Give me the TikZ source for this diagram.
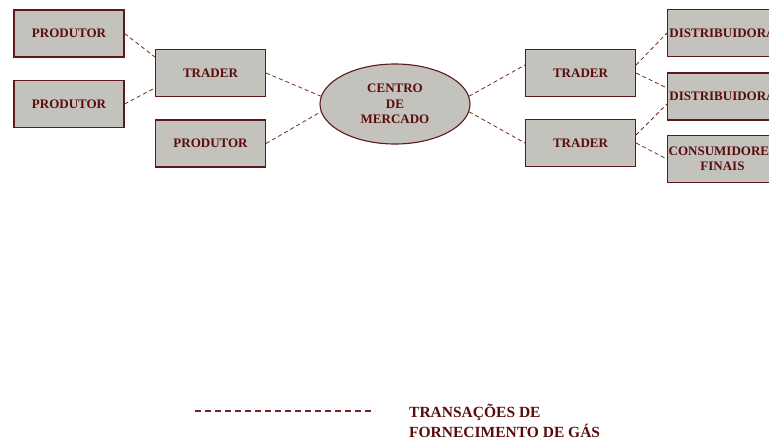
\documentclass[tikz,border=0pt]{standalone}
\usepackage{fontspec}
\setmainfont{Liberation Serif}
\usetikzlibrary{shapes.geometric}
\definecolor{boxfill}{RGB}{196,194,189}
\definecolor{boxline}{RGB}{94,26,26}
\definecolor{ink}{RGB}{90,12,12}
\definecolor{linkcol}{RGB}{110,40,40}
\tikzset{
  agent/.style={draw=boxline, line width=1.1pt, fill=boxfill, rectangle,
    minimum width=110pt, minimum height=47pt, inner sep=0pt,
    text=ink, font=\fontsize{13}{15.5}\selectfont\bfseries, align=center},
  hub/.style={draw=boxline, line width=1.1pt, fill=boxfill, ellipse,
    minimum width=150pt, minimum height=80pt, inner sep=0pt,
    text=ink, font=\fontsize{13}{15.5}\selectfont\bfseries, align=center},
  link/.style={draw=linkcol, line width=0.8pt, dash pattern=on 4pt off 3pt},
  keyline/.style={draw=linkcol, line width=1.3pt, dash pattern=on 6pt off 4pt},
  keytext/.style={text=ink, font=\fontsize{15.5}{20}\selectfont\bfseries,
    align=left, anchor=west, inner sep=0pt}
}
\begin{document}
\begin{tikzpicture}[x=1pt,y=-1pt]
\useasboundingbox (0,0) rectangle (769,439);
\clip (0,0) rectangle (769,439);

% producers and traders on the supply side
\node[agent] (p1) at (69,33.5) {PRODUTOR};
\node[agent] (p2) at (69,104) {PRODUTOR};
\node[agent] (tl) at (210.5,73) {TRADER};
\node[agent] (p3) at (210.5,143.5) {PRODUTOR};

% market hub
\node[hub] (hub) at (395,104) {CENTRO\\DE\\MERCADO};

% traders and buyers on the demand side
\node[agent] (tr1) at (580.5,73) {TRADER};
\node[agent] (tr2) at (580.5,143) {TRADER};
\node[agent] (d1) at (722.5,33) {DISTRIBUIDORA};
\node[agent] (d2) at (722.5,96.5) {DISTRIBUIDORA};
\node[agent] (cf) at (722.5,159) {CONSUMIDORES\\FINAIS};

% gas supply transactions
\draw[link] (p1.east) -- ([yshift=16pt]tl.west);
\draw[link] (p2.east) -- ([yshift=-15pt]tl.west);
\draw[link] (tl.east) -- (hub.174);
\draw[link] (p3.east) -- (hub.186);
\draw[link] (hub.6) -- ([yshift=8pt]tr1.west);
\draw[link] (hub.354) -- (tr2.west);
\draw[link] ([yshift=8pt]tr1.east) -- (d1.west);
\draw[link] (tr1.east) -- ([yshift=8.5pt]d2.west);
\draw[link] ([yshift=8pt]tr2.east) -- ([yshift=-7.5pt]d2.west);
\draw[link] (tr2.east) -- (cf.west);

% legend
\coordinate (ka) at (195,411);
\coordinate (kb) at (375,411);
\draw[keyline] (ka) -- (kb);
\node[keytext] (kt) at (409,420.5) {TRANSAÇÕES DE\\FORNECIMENTO DE GÁS};
\end{tikzpicture}
\end{document}
